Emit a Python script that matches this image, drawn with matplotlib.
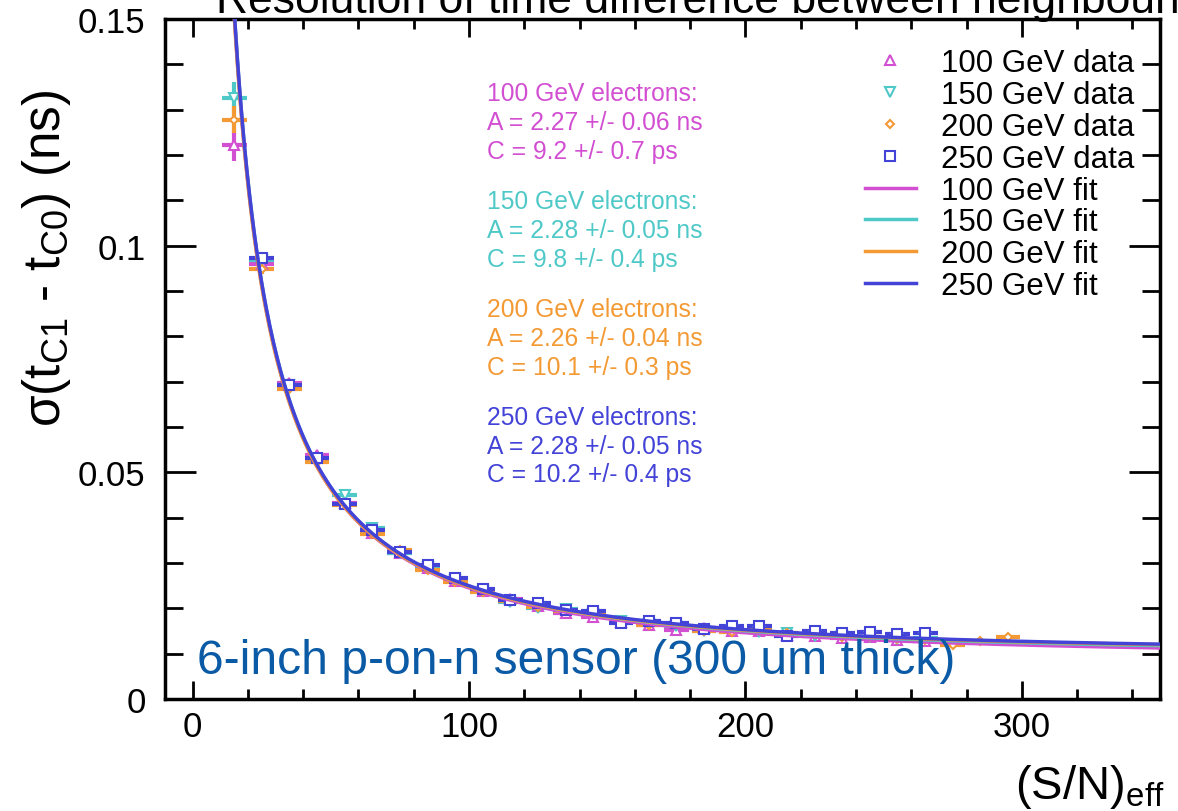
import numpy as np
import matplotlib.pyplot as plt
from matplotlib.lines import Line2D
from matplotlib.ticker import MultipleLocator

plt.rcParams['font.family'] = ['Liberation Sans', 'DejaVu Sans']
plt.rcParams['mathtext.fontset'] = 'custom'
plt.rcParams['mathtext.rm'] = 'Liberation Sans'
plt.rcParams['mathtext.it'] = 'Liberation Sans:italic'

# bin centres of (S/N)_eff
sn_100 = [15, 25, 35, 45, 55, 65, 75, 85, 95, 105, 115, 125, 135, 145, 155, 165, 175,
          185, 195, 205, 215, 225, 235, 245, 255, 265]
sig_100 = [0.1222, 0.0960, 0.0698, 0.0538, 0.0432, 0.0366, 0.0322, 0.0288, 0.0260, 0.0238,
           0.0220, 0.0205, 0.0190, 0.0180, 0.0170, 0.0163, 0.0153, 0.0157, 0.0150, 0.0150,
           0.0142, 0.0138, 0.0135, 0.0136, 0.0130, 0.0128]
err_100 = [0.0035, 0.0012, 0.0008, 0.0006, 0.0005, 0.0005, 0.0004, 0.0004, 0.0004, 0.0004,
           0.0004, 0.0004, 0.0004, 0.0004, 0.0004, 0.0004, 0.0004, 0.0004, 0.0004, 0.0004,
           0.0004, 0.0004, 0.0004, 0.0004, 0.0004, 0.0004]

sn_150 = sn_100
sig_150 = [0.1325, 0.0968, 0.0693, 0.0530, 0.0450, 0.0378, 0.0322, 0.0292, 0.0262, 0.0238,
           0.0215, 0.0200, 0.0198, 0.0188, 0.0172, 0.0165, 0.0160, 0.0150, 0.0152, 0.0147,
           0.0145, 0.0140, 0.0138, 0.0137, 0.0133, 0.0135]
err_150 = err_100

sn_200 = [15, 25, 35, 45, 55, 65, 75, 85, 95, 105, 115, 125, 135, 145, 155, 165, 175,
          185, 195, 205, 215, 225, 235, 245, 255, 265, 275, 285, 295]
sig_200 = [0.1278, 0.0948, 0.0683, 0.0522, 0.0428, 0.0365, 0.0328, 0.0285, 0.0258, 0.0236,
           0.0216, 0.0203, 0.0195, 0.0190, 0.0172, 0.0163, 0.0165, 0.0150, 0.0148, 0.0153,
           0.0146, 0.0143, 0.0136, 0.0137, 0.0133, 0.0130, 0.0120, 0.0127, 0.0137]
err_200 = [0.0030, 0.0010, 0.0007, 0.0005, 0.0004, 0.0004, 0.0004, 0.0003, 0.0003, 0.0003,
           0.0003, 0.0003, 0.0003, 0.0003, 0.0003, 0.0003, 0.0003, 0.0003, 0.0003, 0.0003,
           0.0003, 0.0003, 0.0003, 0.0003, 0.0003, 0.0003, 0.0004, 0.0004, 0.0005]

sn_250 = [25, 35, 45, 55, 65, 75, 85, 95, 105, 115, 125, 135, 145, 155, 165, 175,
          185, 195, 205, 215, 225, 235, 245, 255, 265]
sig_250 = [0.0973, 0.0692, 0.0532, 0.0430, 0.0372, 0.0325, 0.0295, 0.0268, 0.0242, 0.0218,
           0.0212, 0.0196, 0.0194, 0.0167, 0.0172, 0.0168, 0.0155, 0.0160, 0.0160, 0.0140,
           0.0150, 0.0145, 0.0147, 0.0143, 0.0145]
err_250 = [0.0010, 0.0007, 0.0005, 0.0004, 0.0004, 0.0004, 0.0003, 0.0003, 0.0003, 0.0003,
           0.0003, 0.0003, 0.0003, 0.0003, 0.0003, 0.0003, 0.0003, 0.0003, 0.0003, 0.0003,
           0.0003, 0.0003, 0.0003, 0.0003, 0.0003]

half_bin = 4.5

# fit parameters: sigma = A/(S/N) (+) C
energies = ['100', '150', '200', '250']
fit_A = [2.27, 2.28, 2.26, 2.28]      # ns
fit_A_err = [0.06, 0.05, 0.04, 0.05]
fit_C = [9.2, 9.8, 10.1, 10.2]        # ps
fit_C_err = [0.7, 0.4, 0.3, 0.4]

colors = ['#d24fd2', '#4fc8c8', '#f39a35', '#4343d8']
markers = ['^', 'v', 'D', 's']
msizes = [7, 7, 4, 7]

series = [(sn_100, sig_100, err_100), (sn_150, sig_150, err_150),
          (sn_200, sig_200, err_200), (sn_250, sig_250, err_250)]

fig = plt.figure(figsize=(11.78, 8.12), dpi=100)
ax = fig.add_axes([165 / 1178, 1 - 700 / 812, 995 / 1178, 680 / 812])

for (x, y, e), c, m, ms in zip(series, colors, markers, msizes):
    ax.errorbar(x, y, xerr=half_bin, yerr=e, fmt=m, color=c, mfc='white', mec=c,
                ms=ms, mew=1.5, elinewidth=3, capsize=0, zorder=3)

xs = np.linspace(5, 350, 800)
for A, C, c in zip(fit_A, fit_C, colors):
    ax.plot(xs, np.sqrt((A / xs) ** 2 + (C / 1000.0) ** 2), color=c, lw=2.5, zorder=4)

ax.set_xlim(-10, 350)
ax.set_ylim(0, 0.15)
ax.xaxis.set_major_locator(MultipleLocator(100))
ax.xaxis.set_minor_locator(MultipleLocator(20))
ax.yaxis.set_major_locator(MultipleLocator(0.05))
ax.yaxis.set_minor_locator(MultipleLocator(0.01))
ax.set_yticks([0, 0.05, 0.1, 0.15])
ax.set_yticklabels(['0', '0.05', '0.1', '0.15'])
ax.tick_params(which='both', direction='in', top=True, right=True, labelsize=25, width=2)
ax.tick_params(axis='x', which='major', length=13, pad=8)
ax.tick_params(axis='x', which='minor', length=7)
ax.tick_params(axis='y', which='major', length=22, pad=14)
ax.tick_params(axis='y', which='minor', length=13)
for s in ax.spines.values():
    s.set_linewidth(2.5)

ax.set_ylabel('σ(t$_{\\rm C1}$ - t$_{\\rm C0}$) (ns)', fontsize=37)
ax.yaxis.set_label_coords(-0.092, 0.65)
ax.text(1.005, -0.128, r'(S/N)$_{\rm eff}$', transform=ax.transAxes, ha='right',
        va='center', fontsize=34)

fig.text(0.183, 1 - 13 / 812, 'Resolution of time difference between neighbouring cells',
         fontsize=32, va='baseline', ha='left')

block_tops = [82, 190, 298, 406]
for E, A, Ae, C, Ce, c, top in zip(energies, fit_A, fit_A_err, fit_C, fit_C_err, colors, block_tops):
    txt = '%s GeV electrons:\nA = %.2f +/- %.2f ns\nC = %.1f +/- %.1f ps' % (E, A, Ae, C, Ce)
    fig.text(487 / 1178, 1 - top / 812, txt, color=c, fontsize=17.7, va='top', ha='left',
             linespacing=1.25)

ax.text(197 / 1178, 1 - 662 / 812, '6-inch p-on-n sensor (300 um thick)', transform=fig.transFigure,
        color='#0a5aa5', fontsize=34.6, va='center', ha='left', zorder=5)

handles = []
labels = []
for E, c, m, ms in zip(energies, colors, markers, msizes):
    handles.append(Line2D([], [], ls='none', marker=m, mfc='white', mec=c, ms=ms, mew=1.5))
    labels.append('%s GeV data' % E)
for E, c in zip(energies, colors):
    handles.append(Line2D([], [], color=c, lw=2.5))
    labels.append('%s GeV fit' % E)
fig.legend(handles, labels, loc='upper left', bbox_to_anchor=(865 / 1178, 1 - 49 / 812),
           frameon=False, fontsize=22.5, handlelength=1.62, handletextpad=0.82,
           labelspacing=0.06, borderpad=0, borderaxespad=0)

fig.savefig('out.png', dpi=100)
